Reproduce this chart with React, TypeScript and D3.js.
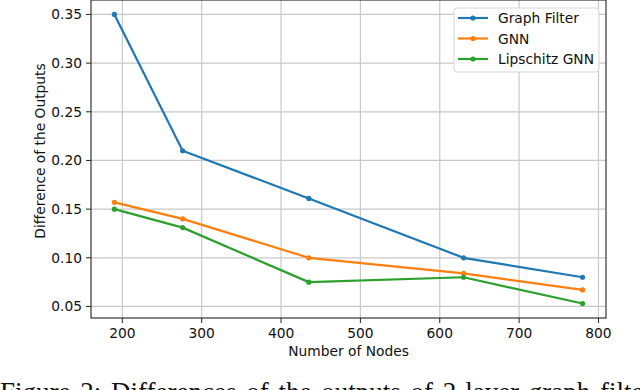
import React from "react";
import * as d3 from "d3";

// number of nodes per graph size
const nodes = [190, 276, 435, 630, 780];
const graphFilter = [0.35, 0.21, 0.161, 0.1, 0.08];
const gnn = [0.157, 0.14, 0.1, 0.084, 0.067];
const lipschitzGnn = [0.15, 0.131, 0.075, 0.08, 0.053];

const seriesNames = ["Graph Filter", "GNN", "Lipschitz GNN"];
const seriesColors = ["#1f77b4", "#ff7f0e", "#2ca02c"];
const xTicks = [200, 300, 400, 500, 600, 700, 800];
const yTicks = [0.05, 0.1, 0.15, 0.2, 0.25, 0.3, 0.35];

const caption =
  "Figure 2: Differences of the outputs of 2-layer graph filters, GNNs and Lipschitz GNNs";

const FONT = "DejaVu Sans, sans-serif";

const App = () => {
  const width = 640;
  const height = 390;
  const left = 91;
  const right = 606;
  const top = 0;
  const bottom = 318;

  const allSeries = [graphFilter, gnn, lipschitzGnn];

  // matplotlib style 5% margins
  const xPad = (d3.max(nodes)! - d3.min(nodes)!) * 0.05;
  const allY = allSeries.flat();
  const yPad = (d3.max(allY)! - d3.min(allY)!) * 0.05;

  const x = d3
    .scaleLinear()
    .domain([d3.min(nodes)! - xPad, d3.max(nodes)! + xPad])
    .range([left, right]);
  const y = d3
    .scaleLinear()
    .domain([d3.min(allY)! - yPad, d3.max(allY)! + yPad])
    .range([bottom, top]);

  const line = d3
    .line<number>()
    .x((_, i) => x(nodes[i]))
    .y((d) => y(d));

  return (
    <div style={{ position: "absolute", left: 0, top: 0 }}>
      <svg width={width} height={height} style={{ display: "block", background: "#fff" }}>
        {/* grid */}
        {xTicks.map((t) => (
          <line key={"gx" + t} x1={x(t)} x2={x(t)} y1={top} y2={bottom} stroke="#c8c8c8" strokeWidth={1.2} />
        ))}
        {yTicks.map((t) => (
          <line key={"gy" + t} x1={left} x2={right} y1={y(t)} y2={y(t)} stroke="#c8c8c8" strokeWidth={1.2} />
        ))}

        {/* series */}
        {allSeries.map((s, k) => (
          <g key={seriesNames[k]}>
            <path d={line(s)!} fill="none" stroke={seriesColors[k]} strokeWidth={2.2} strokeLinejoin="round" />
            {s.map((v, i) => (
              <circle key={i} cx={x(nodes[i])} cy={y(v)} r={2.6} fill={seriesColors[k]} />
            ))}
          </g>
        ))}

        {/* spines */}
        <rect x={left} y={top} width={right - left} height={bottom - top} fill="none" stroke="#222" strokeWidth={1.1} />

        {/* x axis */}
        {xTicks.map((t) => (
          <g key={"xt" + t}>
            <line x1={x(t)} x2={x(t)} y1={bottom} y2={bottom + 5} stroke="#222" strokeWidth={1} />
            <text x={x(t)} y={338} textAnchor="middle" fontFamily={FONT} fontSize={13.8} fill="#111">
              {t}
            </text>
          </g>
        ))}
        <text x={(left + right) / 2} y={356} textAnchor="middle" fontFamily={FONT} fontSize={13.8} fill="#111">
          Number of Nodes
        </text>

        {/* y axis */}
        {yTicks.map((t) => (
          <g key={"yt" + t}>
            <line x1={left - 5} x2={left} y1={y(t)} y2={y(t)} stroke="#222" strokeWidth={1} />
            <text x={82} y={y(t) + 5} textAnchor="end" fontFamily={FONT} fontSize={13.8} fill="#111">
              {t.toFixed(2)}
            </text>
          </g>
        ))}
        <text
          transform="translate(45,151) rotate(-90)"
          textAnchor="middle"
          fontFamily={FONT}
          fontSize={13.8}
          fill="#111"
        >
          Difference of the Outputs
        </text>

        {/* legend */}
        <rect x={454} y={8} width={145} height={64} rx={3} fill="#fff" fillOpacity={0.85} stroke="#d6d6d6" strokeWidth={1} />
        {seriesNames.map((n, k) => {
          const ly = 18 + k * 20.5;
          return (
            <g key={"lg" + n}>
              <line x1={458} x2={488} y1={ly} y2={ly} stroke={seriesColors[k]} strokeWidth={2.2} />
              <circle cx={473} cy={ly} r={2.6} fill={seriesColors[k]} />
              <text x={498} y={ly + 5} fontFamily={FONT} fontSize={13.8} fill="#111">
                {n}
              </text>
            </g>
          );
        })}

        {/* caption, cut by the bottom edge as in the source */}
        <text x={0} y={401} fontFamily="Liberation Serif, serif" fontSize={27} wordSpacing={3} fill="#111">
          {caption}
        </text>
      </svg>
    </div>
  );
};

export default App;
